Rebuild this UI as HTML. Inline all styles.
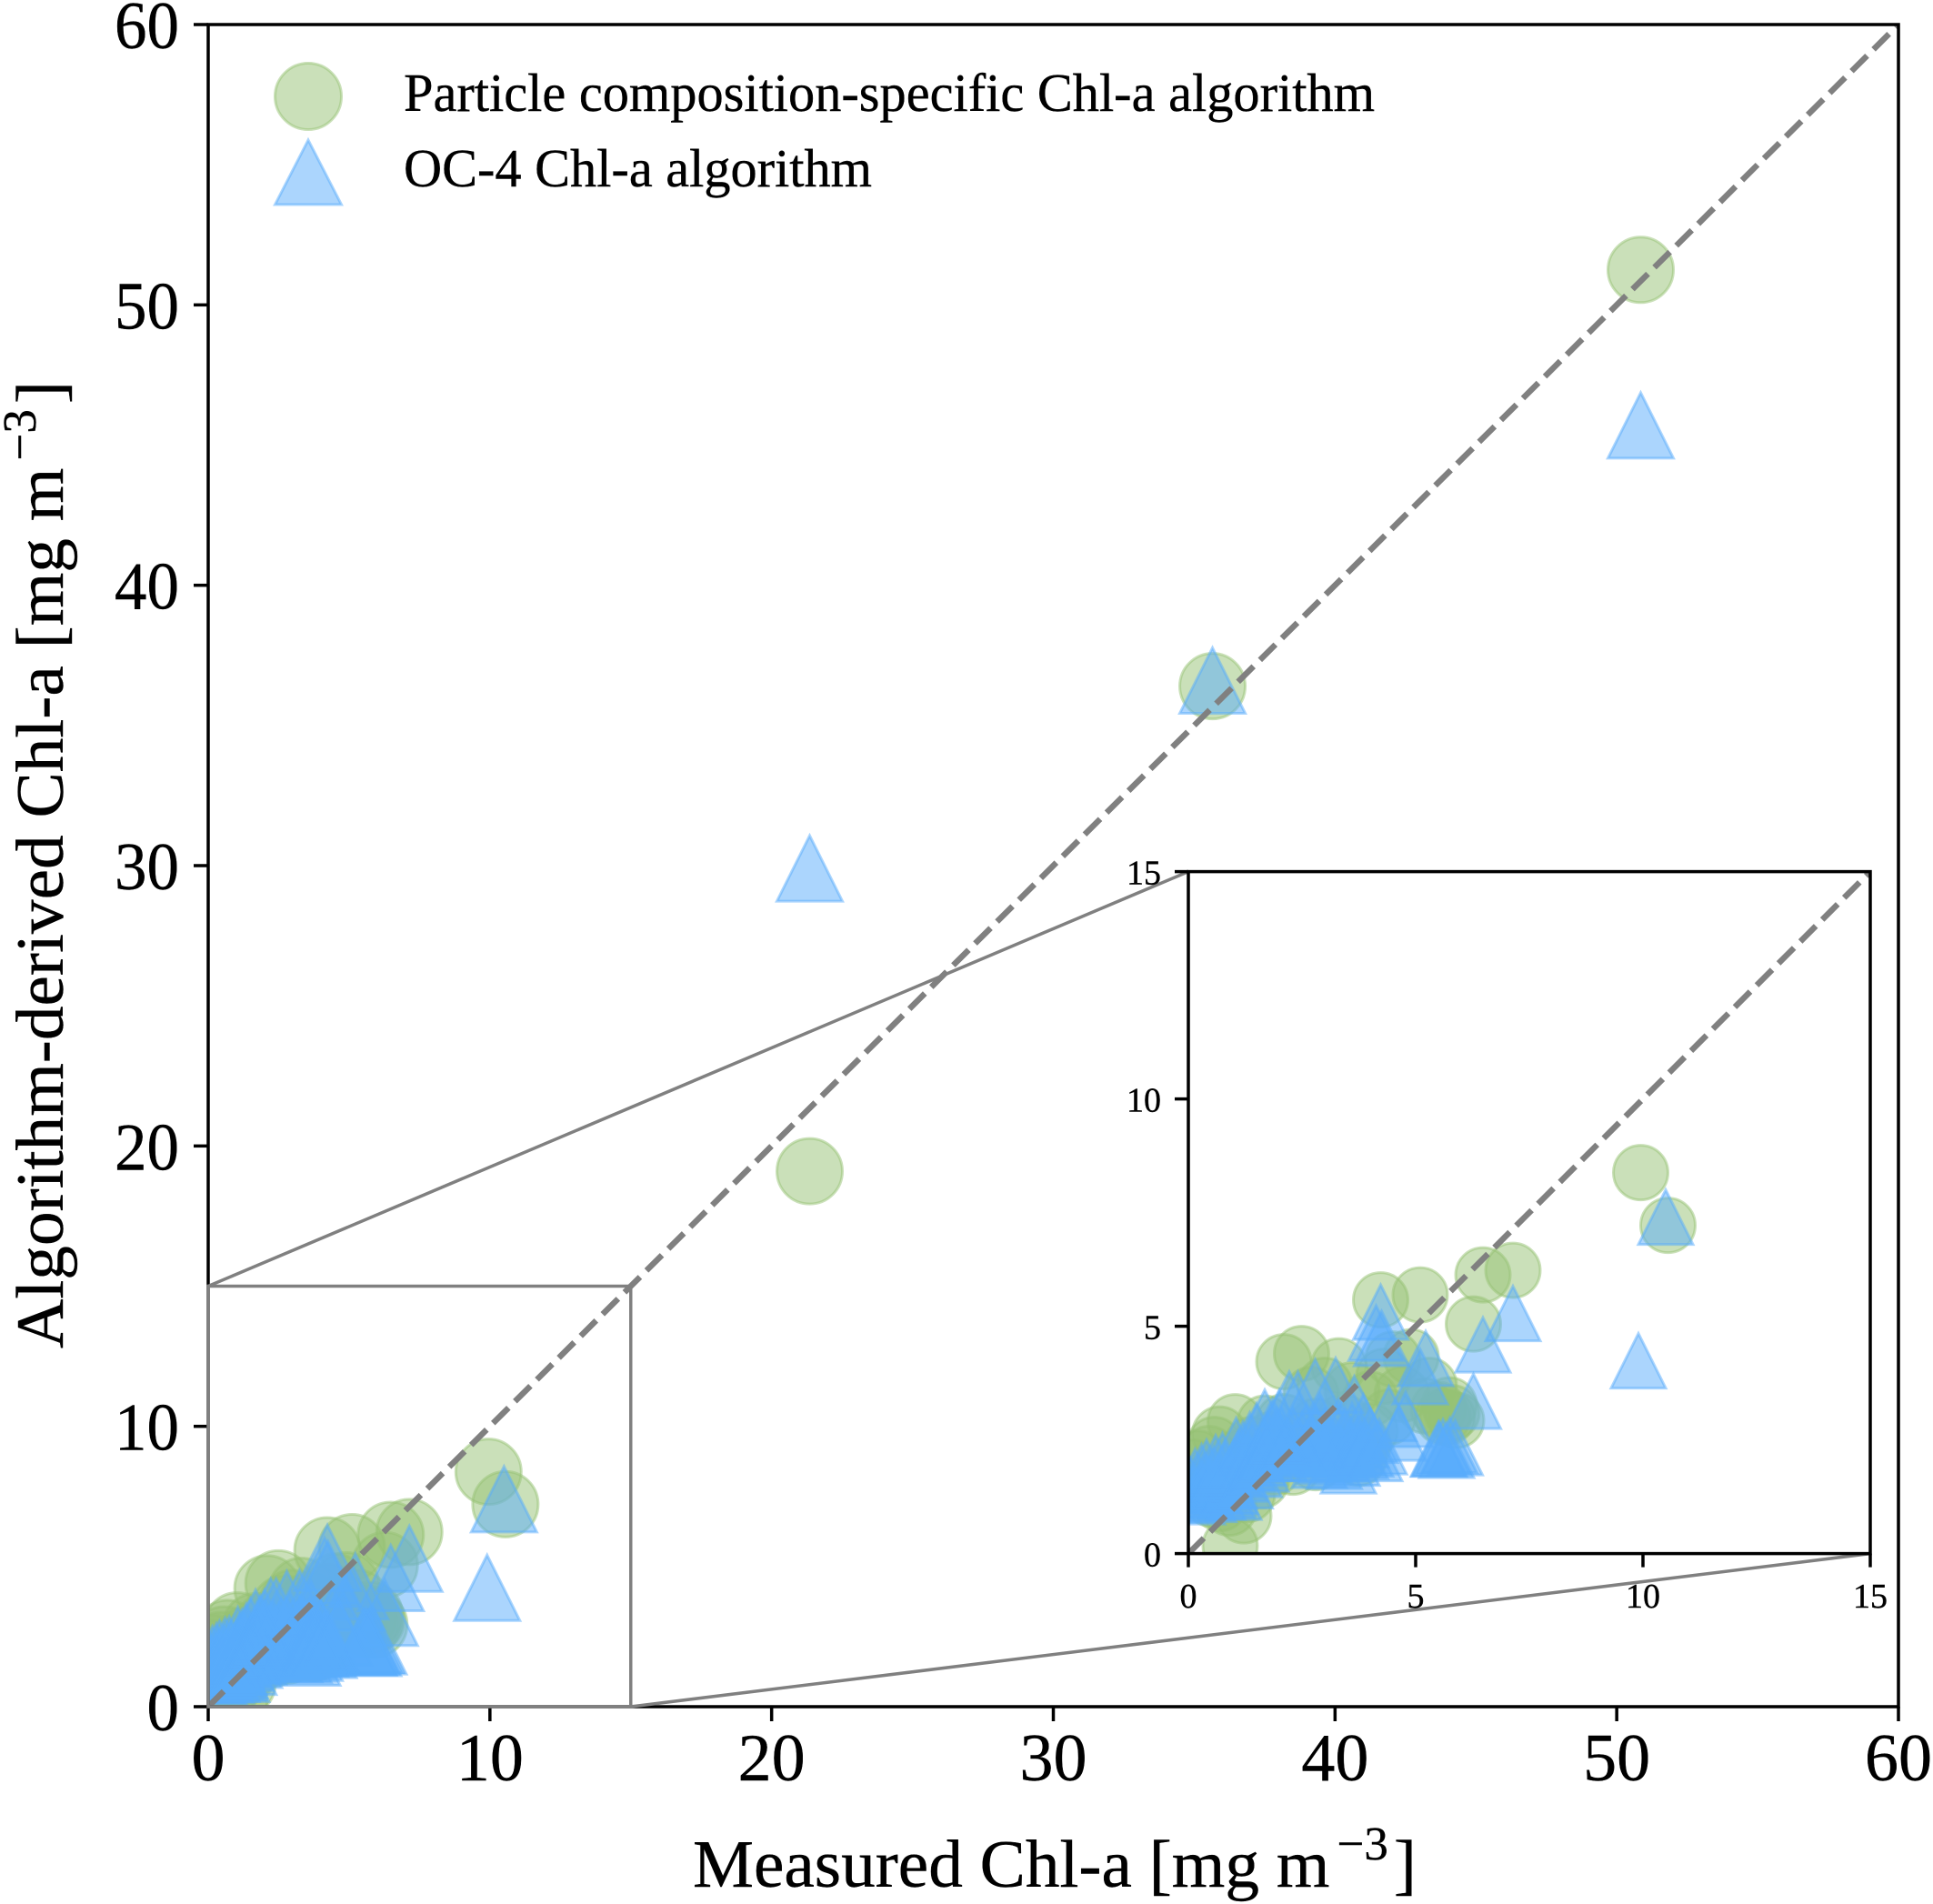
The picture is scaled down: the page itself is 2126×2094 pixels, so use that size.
<!DOCTYPE html>
<html>
<head>
<meta charset="utf-8">
<title>Measured vs algorithm-derived Chl-a</title>
<style>
html,body{margin:0;padding:0;background:#fff;}
svg{display:block;}
text{font-family:"Liberation Serif","DejaVu Serif",serif;fill:#000;stroke:#000;stroke-width:0.4;}
</style>
</head>
<body>
<svg id="chart" xmlns="http://www.w3.org/2000/svg" width="2126" height="2094" viewBox="0 0 2126 2094">
  <rect x="0" y="0" width="2126" height="2094" fill="#fff"/>
  <defs>
    <clipPath id="clip-main"><rect x="229" y="27" width="1859" height="1850"/></clipPath>
    <clipPath id="clip-inset"><rect x="1307" y="958.6" width="750" height="750"/></clipPath>
  </defs>
  <g id="main-layer"></g>
  <g id="inset-layer"></g>

  <g>
    <circle cx="339" cy="106" r="36.5" fill="#95c173" fill-opacity="0.5" stroke="#95c173" stroke-opacity="0.5" stroke-width="3"/>
    <path d="M339 154 L375.500 225 L302.500 225 Z" fill="#57abfb" fill-opacity="0.5" stroke="#57abfb" stroke-opacity="0.5" stroke-width="3"/>
    <text x="444" y="122" font-size="59" textLength="1068" lengthAdjust="spacingAndGlyphs">Particle composition-specific Chl-a algorithm</text>
    <text x="444" y="205" font-size="59" textLength="515" lengthAdjust="spacingAndGlyphs">OC-4 Chl-a algorithm</text>
  </g>

  <text x="762" y="2075" font-size="74" textLength="796" lengthAdjust="spacingAndGlyphs">Measured Chl-a [mg m<tspan dx="8" dy="-30" font-size="52">−3</tspan><tspan dx="6" dy="30">]</tspan></text>
  <text transform="translate(69,1483) rotate(-90)" x="0" y="0" font-size="74" textLength="1064" lengthAdjust="spacingAndGlyphs">Algorithm-derived Chl-a [mg m<tspan dx="8" dy="-30" font-size="52">−3</tspan><tspan dx="6" dy="30">]</tspan></text>
</svg>
<script>
// Particle composition-specific algorithm: measured and derived Chl-a
const circleMeasured = [50.85,35.65,21.35,9.95,10.55,6.48,7.14,6.27,4.23,5.1,2.1,2.49,3.31,4.5,4.9,5.3,5.74,5.5,5.9,5.2,4.7,4.0,3.6,3.0,2.7,4.4,3.75,3.85,4.0,1.03,0.69,1.68,0.57,0.45,0.2,0.1,1.22,0.92,0.9,0.7,0.5,1.3,1.6,1.9,2.2,2.5,2.8,3.1,3.4,1.1,1.4,1.8,2.1,0.3,0.6,0.9,3.3,2.8,2.3,4.3,5.7,5.8,5.6];
const circleDerived = [51.25,36.4,19.1,8.38,7.22,6.13,6.23,5.05,5.58,5.69,4.22,4.4,4.13,4.28,4.33,3.7,3.27,3.17,2.93,3.25,3.5,3.4,3.6,3.7,3.5,3.0,2.1,2.4,2.7,2.9,2.63,2.87,2.4,2.2,2.1,1.9,0.83,0.17,1.0,1.1,1.2,1.3,1.6,1.9,2.2,2.5,2.8,2.6,2.9,2.1,2.4,2.5,2.9,1.5,1.7,1.9,2.2,2.0,1.9,3.9,3.0,3.1,3.0];
// OC-4 algorithm: measured and derived Chl-a
const triangleMeasured = [50.85,35.65,21.35,9.9,10.5,7.14,6.48,6.27,5.22,5.1,4.23,4.13,4.25,5.52,5.87,5.68,5.75,5.6,5.5,0.05,0.1,0.15,0.29,0.2,0.3,0.35,0.45,0.5,0.55,0.6,0.65,0.7,0.8,0.85,0.9,0.92,1.0,1.0,1.05,1.1,1.15,1.2,1.3,1.35,1.4,1.5,1.55,1.6,1.68,1.75,1.85,1.9,2.0,2.05,2.15,2.22,2.41,2.5,2.6,2.79,2.88,2.9,3.0,3.1,3.21,3.24,3.3,3.4,3.52,3.55,3.6,3.65,3.79,3.8,3.85,3.9,4.0,4.2,4.1,4.41,4.78,4.63,2.2,2.4,0.4,0.75,1.25,1.45,1.7,2.0,2.3,2.7,2.95,3.15,3.35,3.7,3.45,2.55,2.8,1.95,3.0,3.6];
const triangleDerived = [45.7,36.6,29.9,4.24,7.4,5.28,4.59,3.35,4.29,3.89,5.31,4.85,4.73,2.3,2.33,2.27,2.38,2.35,2.3,1.5,1.3,1.7,1.8,1.25,1.4,1.6,1.3,1.5,1.75,2.0,1.35,1.6,1.85,1.4,1.6,1.48,1.35,1.9,2.38,2.1,1.75,2.3,2.0,2.5,2.25,2.7,2.1,1.97,3.0,2.5,2.8,2.3,3.0,2.6,2.35,3.4,3.4,2.5,2.7,3.67,2.05,2.9,2.6,2.3,2.03,3.7,2.8,2.45,1.93,2.3,2.7,3.3,2.25,2.5,2.9,2.3,2.6,2.35,2.2,3.08,2.95,2.65,2.35,2.4,1.9,2.05,1.6,1.85,2.2,2.2,2.6,2.4,2.3,2.55,2.2,2.35,2.6,2.2,2.65,2.6,2.15,2.1];
// Axis ticks
const mainTickValues = [0,10,20,30,40,50,60];
const mainTickLabels = ["0","10","20","30","40","50","60"];
const insetTickValues = [0,5,10,15];
const insetTickLabels = ["0","5","10","15"];
// Reference line endpoints and zoom window limit (data units)
const identityMain = [0,60];
const identityInset = [0,15];
const zoomLimit = [15];

const NS = "http://www.w3.org/2000/svg";
function mk(tag, attrs, parent) {
  const el = document.createElementNS(NS, tag);
  for (const k in attrs) el.setAttribute(k, attrs[k]);
  parent.appendChild(el);
  return el;
}

function drawPanel(layer, panel, tickValues, tickLabels, identity, prefix) {
  const sx = v => panel.left + (v - panel.min) / (panel.max - panel.min) * panel.width;
  const sy = v => panel.bottom - (v - panel.min) / (panel.max - panel.min) * panel.height;
  const top = panel.bottom - panel.height;

  if (panel.background) {
    const bg = mk("rect", {x: panel.left, y: top, width: panel.width, height: panel.height, fill: "#fff"}, layer);
    
    
  }

  const marks = mk("g", {"clip-path": "url(#" + panel.clip + ")"}, layer);
  
  

  circleMeasured.forEach((m, i) => {
    const c = mk("circle", {cx: sx(m), cy: sy(circleDerived[i]), r: panel.marker, fill: "#95c173", "fill-opacity": 0.5, stroke: "#95c173", "stroke-opacity": 0.5, "stroke-width": 3}, marks);
    
    
  });

  triangleMeasured.forEach((m, i) => {
    const cx = sx(m), cy = sy(triangleDerived[i]), h = panel.marker;
    const t = mk("path", {d: "M" + cx + " " + (cy - h) + " L" + (cx + h) + " " + (cy + h) + " L" + (cx - h) + " " + (cy + h) + " Z", fill: "#57abfb", "fill-opacity": 0.5, stroke: "#57abfb", "stroke-opacity": 0.5, "stroke-width": 3}, marks);
    
    
  });

  const line = mk("line", {x1: sx(identity[0]), y1: sy(identity[0]), x2: sx(identity[1]), y2: sy(identity[1]), stroke: "#808080", "stroke-width": panel.dashWidth, "stroke-dasharray": panel.dash}, marks);
  
  

  tickValues.forEach((v, i) => {
    const xt = mk("line", {x1: sx(v), x2: sx(v), y1: panel.bottom, y2: panel.bottom + panel.tickLen, stroke: "#000", "stroke-width": panel.tickWidth}, layer);
    
    

    const yt = mk("line", {x1: panel.left - panel.tickLen, x2: panel.left, y1: sy(v), y2: sy(v), stroke: "#000", "stroke-width": panel.tickWidth}, layer);
    
    

    const xl = mk("text", {x: sx(v), y: panel.xLabelY, "text-anchor": "middle", "font-size": panel.font}, layer);
    
    
    xl.textContent = tickLabels[i];

    const yl = mk("text", {x: panel.yLabelX, y: sy(v) + panel.yLabelDy, "text-anchor": "end", "font-size": panel.font, textLength: tickLabels[i].length * panel.yAdvance, lengthAdjust: "spacingAndGlyphs"}, layer);
    
    
    yl.textContent = tickLabels[i];
  });

  const frame = mk("rect", {x: panel.left, y: top, width: panel.width, height: panel.height, fill: "none", stroke: "#000", "stroke-width": panel.spine}, layer);
  
  
}

const mainPanel = {left:229, bottom:1877, width:1859, height:1850, min:0, max:60, clip:"clip-main", marker:36, dashWidth:6.5, dash:"24 10", tickLen:16, tickWidth:3.5, spine:3.5, font:74, yAdvance:35.5, xLabelY:1958, yLabelX:197, yLabelDy:26};
const insetPanel = {left:1307, bottom:1708.6, width:750, height:750, min:0, max:15, clip:"clip-inset", marker:30, dashWidth:6.5, dash:"24 10", tickLen:15, tickWidth:3.5, spine:3.5, font:38, yAdvance:19, xLabelY:1768, yLabelX:1277, yLabelDy:14, background:true};

const mainLayer = document.getElementById("main-layer");
const insetLayer = document.getElementById("inset-layer");

drawPanel(mainLayer, mainPanel, mainTickValues, mainTickLabels, identityMain, "main");

// Zoom window and connector lines linking it to the inset
const zx = v => mainPanel.left + v / mainPanel.max * mainPanel.width;
const zy = v => mainPanel.bottom - v / mainPanel.max * mainPanel.height;
const zoomBox = mk("rect", {x: zx(0), y: zy(zoomLimit[0]), width: zx(zoomLimit[0]) - zx(0), height: zy(0) - zy(zoomLimit[0]), fill: "none", stroke: "#808080", "stroke-width": 3.5}, mainLayer);


const connectorTop = mk("line", {x1: zx(0), y1: zy(zoomLimit[0]), x2: insetPanel.left, y2: insetPanel.bottom - insetPanel.height, stroke: "#808080", "stroke-width": 3.5}, mainLayer);


const connectorBottom = mk("line", {x1: zx(zoomLimit[0]), y1: zy(0), x2: insetPanel.left + insetPanel.width, y2: insetPanel.bottom, stroke: "#808080", "stroke-width": 3.5}, mainLayer);



drawPanel(insetLayer, insetPanel, insetTickValues, insetTickLabels, identityInset, "inset");
</script>
</body>
</html>
